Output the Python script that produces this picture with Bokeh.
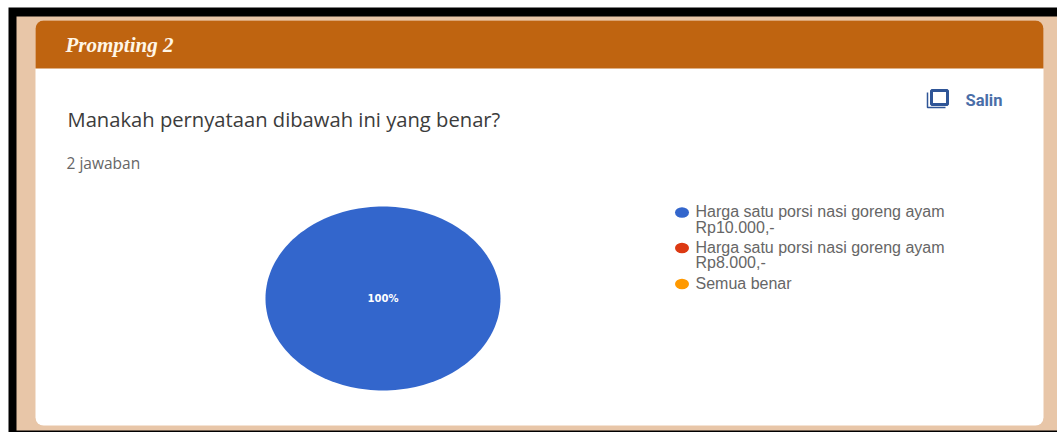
import numpy as np
from bokeh.core.properties import value
from bokeh.embed import file_html
from bokeh.models import BoxAnnotation
from bokeh.plotting import figure
from bokeh.resources import INLINE

WIDTH, HEIGHT = 1057, 432

section_title = "Prompting 2"
question = "Manakah pernyataan dibawah ini yang benar?"
answer_count = "2 jawaban"
copy_label = "Salin"

# Survey answers and their share of responses
answer_lines = [
    ["Harga satu porsi nasi goreng ayam", "Rp10.000,-"],
    ["Harga satu porsi nasi goreng ayam", "Rp8.000,-"],
    ["Semua benar"],
]
answer_shares = [100, 0, 0]
answer_colors = ["#3366cc", "#dc3912", "#ff9900"]

p = figure(
    width=WIDTH, height=HEIGHT, output_backend="svg", toolbar_location=None,
    x_range=(0, WIDTH), y_range=(HEIGHT, 0), min_border=0,
    x_axis_type=None, y_axis_type=None, outline_line_color=None,
    background_fill_color="white", border_fill_color="white",
)
p.grid.visible = False

# Page frame: black rule around a beige page
p.quad(left=[8], right=[WIDTH], top=[7], bottom=[432], fill_color="black", line_color=None, level="image")
p.quad(left=[16], right=[WIDTH], top=[16], bottom=[430], fill_color="#e8c6a8", line_color=None, level="image")

# Card and its header band
p.add_layout(BoxAnnotation(left=35, right=1043, top=20, bottom=425, fill_color="white", fill_alpha=1,
                           line_color=None, border_radius=8, level="underlay"))
p.add_layout(BoxAnnotation(left=35, right=1043, top=20, bottom=68, fill_color="#bf6410", fill_alpha=1,
                           line_color=None, level="underlay",
                           border_radius=dict(top_left=8, top_right=8, bottom_right=0, bottom_left=0)))

p.text([65], [44], text=[section_title], text_font=value("Liberation Serif"), text_font_style="bold italic",
       text_font_size="21px", text_color="#fff6e6", text_baseline="middle")
p.text([67], [118], text=[question], text_font=value("Open Sans"), text_font_size="20.2px",
       text_color="#3c3c3c", text_baseline="middle")
p.text([66], [162], text=[answer_count], text_font=value("Open Sans"), text_font_size="15.5px",
       text_color="#666666", text_baseline="middle")

# Copy icon: front square with the back sheet's corner showing
p.quad(left=[931], right=[947], top=[90], bottom=[104], fill_color=None, line_color="#2f5597", line_width=3)
p.multi_line([[927, 927, 945]], [[92, 107, 107]], line_color="#2f5597", line_width=1.5)
p.text([965], [100], text=[copy_label], text_font=value("Roboto"), text_font_style="bold", text_font_size="16.5px",
       text_color="#4a6ea8", text_baseline="middle")

# Pie drawn as elliptical slices from the answer shares
cx, cy, rx, ry = 382.5, 298, 117.5, 92
ends = np.cumsum(answer_shares) / np.sum(answer_shares) * 2 * np.pi
starts = np.concatenate([[0], ends[:-1]])
for start, end, share, color in zip(starts, ends, answer_shares, answer_colors):
    if share == 0:
        continue
    t = np.linspace(start, end, 181)
    xs, ys = cx + rx * np.sin(t), cy - ry * np.cos(t)
    if share < sum(answer_shares):
        xs, ys = np.append(xs, cx), np.append(ys, cy)
    p.patch(xs, ys, fill_color=color, line_color=None)
    mid = (start + end) / 2
    offset = 0 if share == sum(answer_shares) else 0.6
    p.text([cx + offset * rx * np.sin(mid)], [cy - offset * ry * np.cos(mid)], text=[f"{share}%"],
           text_font=value("DejaVu Sans"), text_font_style="bold", text_font_size="10px", text_color="white",
           text_align="center", text_baseline="middle")

# Legend, with wrapped answer labels
row_tops = [212, 247.5, 283.5]
for top, lines, color in zip(row_tops, answer_lines, answer_colors):
    p.ellipse([681.5], [top], width=14, height=10.5, fill_color=color, line_color=None)
    for i, line in enumerate(lines):
        p.text([695], [top - 1 + i * 15.5], text=[line], text_font=value("Liberation Sans"), text_font_size="16px",
               text_color="#666666", text_baseline="middle")

open("out.html", "w").write(file_html(p, INLINE))
